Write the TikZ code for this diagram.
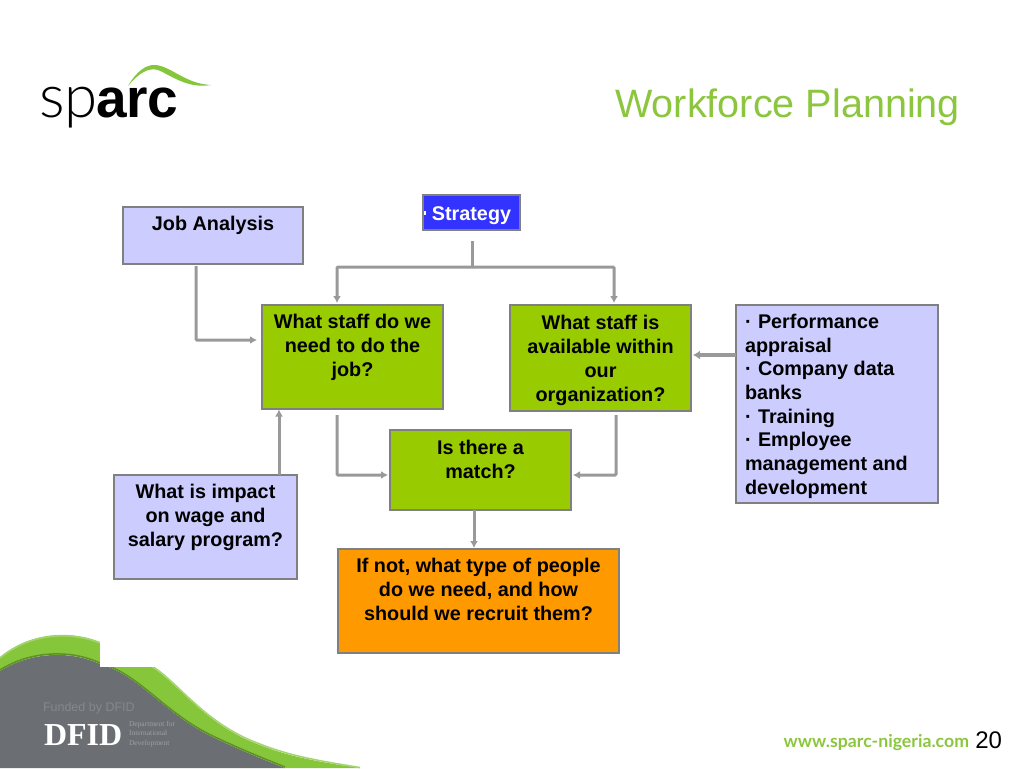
\documentclass[tikz,border=0pt]{standalone}
\usepackage{fontspec}
\setmainfont{Liberation Sans}
\newfontfamily\lightf{Lato Light}
\newfontfamily\latof{Lato}
\newfontfamily\serf{Liberation Serif}
\usetikzlibrary{arrows.meta}
\definecolor{lilac}{HTML}{CCCCFF}
\definecolor{leaf}{HTML}{99CC00}
\definecolor{amber}{HTML}{FF9900}
\definecolor{royal}{HTML}{3333FF}
\definecolor{edge}{HTML}{808080}
\definecolor{wire}{HTML}{999999}
\definecolor{titlegreen}{HTML}{8CC63F}
\definecolor{swoosh}{HTML}{85C63A}
\definecolor{swooshdark}{HTML}{5E8F28}
\definecolor{swooshlight}{HTML}{A4D46E}
\definecolor{slate}{HTML}{6B6E72}
\newcommand{\boxtxt}[4]{\parbox[c][#2pt][t]{#1pt}{\centering\fontsize{19.8}{24}\selectfont\bfseries\vspace*{#3pt}#4\par}}
\newcommand{\bul}{\makebox[13pt][l]{·}}
\tikzset{
  flowbox/.style={draw=edge,line width=1.6pt,inner sep=0pt,outer sep=0pt,anchor=north west},
  wirep/.style={draw=wire,line width=3pt,-{Latex[length=7pt,width=8pt]},rounded corners=1pt},
  caption/.style={inner sep=0pt,outer sep=0pt}
}
\begin{document}
\begin{tikzpicture}[x=1pt,y=-1pt]
\useasboundingbox (0,0) rectangle (1024,768);
% footer
\fill[slate] (0,768) -- (0,671) .. controls (30,652) and (70,650) .. (100,664) .. controls (140,675) and (165,715) .. (215,738) .. controls (240,750) and (265,760) .. (285,768) -- cycle;
\fill[swoosh] (0,671) .. controls (30,652) and (70,650) .. (100,664) .. controls (140,675) and (165,715) .. (215,738) .. controls (240,750) and (265,760) .. (285,768) -- (360,768) .. controls (320,762) and (290,757) .. (260,745) .. controls (205,725) and (180,685) .. (152,667) -- (100,642) .. controls (70,630) and (30,632) .. (0,657) -- cycle;
\draw[swooshlight,line width=1.5pt] (0,658) .. controls (30,633) and (70,631) .. (100,643);
\draw[swooshlight,line width=1.5pt] (360,767.5) .. controls (320,761) and (290,756) .. (260,744) .. controls (205,724) and (180,684) .. (152,666);
\draw[swooshdark,line width=1.5pt] (0,670) .. controls (30,651) and (70,649) .. (100,663) .. controls (140,674) and (165,714) .. (215,737) .. controls (240,749) and (265,759) .. (285,767);
\fill[white] (100,610) rectangle (200,667);
% logo
\node[caption,anchor=base west] (sp) at (39,117) {\fontsize{60}{60}\selectfont\lightf sp};
\node[caption,anchor=base west] (arc) at (96,117) {\fontsize{55}{55}\selectfont\bfseries arc};
\fill[swoosh] (128,86) .. controls (136,72) and (146,64) .. (156,65) .. controls (172,67) and (186,84) .. (211,85) .. controls (188,89) and (172,76) .. (158,70) .. controls (148,67) and (138,74) .. (128,86) -- cycle;
% title
\node[caption,anchor=base east,text=titlegreen] (title) at (960,117) {\fontsize{39.6}{40}\selectfont Workforce Planning};
% boxes
\node[flowbox,fill=royal,text=white] (strategy) at (423,195) {\boxtxt{97}{35}{12}{Strategy}};
\node[flowbox,fill=lilac] (job) at (123,207) {\boxtxt{180}{57}{9.5}{Job Analysis}};
\node[flowbox,fill=leaf] (need) at (262,305) {\boxtxt{181}{104}{9.5}{What staff do we\\need to do the\\job?}};
\node[flowbox,fill=leaf] (avail) at (510,305) {\boxtxt{181}{106}{10.5}{What staff is\\available within\\our\\organization?}};
\node[flowbox,fill=leaf] (match) at (390,430) {\boxtxt{181}{80}{10.5}{Is there a\\match?}};
\node[flowbox,fill=lilac] (impact) at (114,475) {\boxtxt{183}{104}{9.5}{What is impact\\on wage and\\salary program?}};
\node[flowbox,fill=amber] (hire) at (338,549) {\boxtxt{281}{104}{9.5}{If not, what type of people\\do we need, and how\\should we recruit them?}};
\node[flowbox,fill=lilac] (sources) at (736,305) {\parbox[c][198pt][t]{202pt}{\raggedright\fontsize{19.8}{23.7}\selectfont\bfseries\leftskip=9pt\vspace*{9pt}\bul Performance\\appraisal\\\bul Company data\\banks\\\bul Training\\\bul Employee\\management and\\development\par}};
\fill[white] (424,211) rectangle (426,215);
% connectors
\coordinate (split) at (472,267);
\draw[draw=wire,line width=3pt,shorten <=11pt] (strategy.south -| split) -- (split);
\draw[wirep,shorten >=1pt] (split) -| (337,304);
\draw[wirep,shorten >=1pt] (split) -| (614,304);
\draw[wirep,shorten <=2pt] (196,264) |- (257,340);
\draw[wirep] (impact.north -| 279,0) -- (279,409.5);
\draw[wirep,shorten <=6pt] (337,409) |- (388,475);
\draw[wirep,shorten <=4pt] (616,411) |- (573,475);
\draw[wirep] (474,510) -- (474,548);
\draw[draw=wire,line width=4pt,-{Latex[length=7pt,width=9pt]}] (sources.west |- 0,355) -- (693,355);
% footer texts
\node[caption,anchor=base west,text=white] (dfid) at (44,745) {\fontsize{32}{32}\selectfont\serf\bfseries DFID};
\node[caption,anchor=base west,text=slate!82!white] (fund) at (43,711) {\fontsize{12.5}{12.5}\selectfont Funded by DFID};
\node[caption,anchor=north west,text=slate!65!white,align=left,font=\serf\fontsize{7.5}{9.5}\selectfont] (dept) at (129,721) {Department for\\International\\Development};
\node[caption,anchor=base east,text=titlegreen] (web) at (969,747) {\fontsize{17.7}{18}\selectfont\latof\bfseries www.sparc-nigeria.com};
\node[caption,anchor=base east] (page) at (1002,748) {\fontsize{24}{24}\selectfont 20};
\end{tikzpicture}
\end{document}
